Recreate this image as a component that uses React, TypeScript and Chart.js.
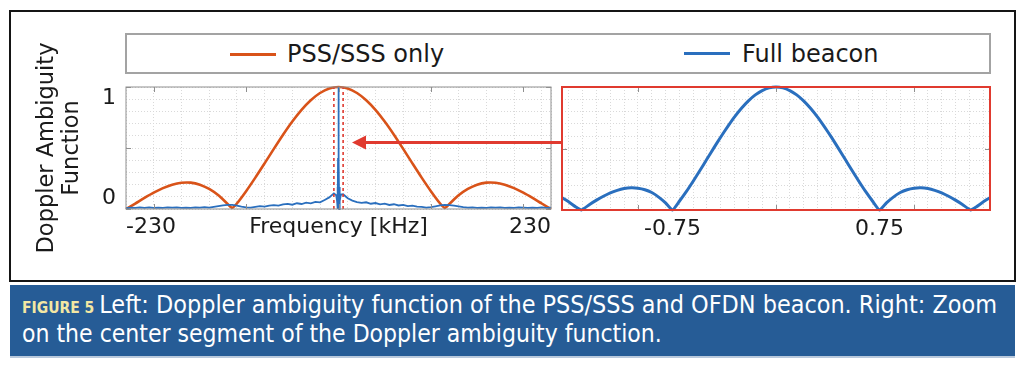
import React, { useEffect, useRef } from 'react';
import { Chart, registerables } from 'chart.js';

Chart.register(...registerables);

const ORANGE = '#D95319';
const BLUE = '#2A6FBE';
const RED = '#E03A2F';
const GRID_COLOR = '#d9d9d9';
const AXIS_COLOR = '#8f8f8f';
const TEXT = '#1a1a1a';
const FONT = '"DejaVu Sans", "Liberation Sans", sans-serif';
const CAPTION_FONT = '"DejaVu Sans Condensed", "Liberation Sans Narrow", "DejaVu Sans", sans-serif';

const seriesNames = ['PSS/SSS only', 'Full beacon'];

// Left panel: PSS/SSS only (kHz -> normalized level)
const pssFreqKHz = [-230, -220, -210, -200, -190, -180, -170, -160, -150, -140, -130, -120, -115, -110, -100, -90, -80, -70, -60, -50, -40, -30, -20, -10, 0, 10, 20, 30, 40, 50, 60, 70, 80, 90, 100, 110, 115, 120, 130, 140, 150, 160, 170, 180, 190, 200, 210, 220, 230];
const pssLevel = [0, 0.045, 0.091, 0.134, 0.171, 0.199, 0.215, 0.216, 0.199, 0.164, 0.112, 0.042, 0.01, 0.045, 0.146, 0.257, 0.374, 0.493, 0.609, 0.717, 0.813, 0.892, 0.951, 0.988, 1, 0.988, 0.951, 0.892, 0.813, 0.717, 0.609, 0.493, 0.374, 0.257, 0.146, 0.045, 0.01, 0.042, 0.112, 0.164, 0.199, 0.216, 0.215, 0.199, 0.171, 0.134, 0.091, 0.045, 0];

// Left panel: Full beacon
const beaconFreqKHz = [-230, -225, -220, -215, -210, -205, -200, -195, -190, -185, -180, -175, -170, -165, -160, -155, -150, -145, -140, -135, -130, -125, -120, -115, -110, -105, -100, -95, -90, -85, -80, -75, -70, -65, -60, -55, -50, -45, -40, -35, -30, -25, -20, -15, -10, -5, -2.5, -1.5, -1.05, -0.75, -0.5, -0.25, 0, 0.25, 0.5, 0.75, 1.05, 1.5, 2.5, 5, 10, 15, 20, 25, 30, 35, 40, 45, 50, 55, 60, 65, 70, 75, 80, 85, 90, 95, 100, 105, 110, 115, 120, 125, 130, 135, 140, 145, 150, 155, 160, 165, 170, 175, 180, 185, 190, 195, 200, 205, 210, 215, 220, 225, 230];
const beaconLevel = [0.008, 0.012, 0.009, 0.013, 0.010, 0.014, 0.009, 0.012, 0.010, 0.014, 0.011, 0.013, 0.009, 0.012, 0.010, 0.014, 0.011, 0.015, 0.012, 0.018, 0.024, 0.030, 0.034, 0.033, 0.028, 0.020, 0.013, 0.011, 0.017, 0.023, 0.019, 0.028, 0.032, 0.027, 0.038, 0.042, 0.035, 0.047, 0.041, 0.052, 0.046, 0.059, 0.054, 0.074, 0.095, 0.128, 0.112, 0.065, 0.18, 0, 0.41, 0.83, 1, 0.83, 0.41, 0, 0.18, 0.065, 0.118, 0.121, 0.088, 0.069, 0.057, 0.050, 0.055, 0.043, 0.049, 0.038, 0.044, 0.033, 0.039, 0.029, 0.034, 0.024, 0.028, 0.020, 0.017, 0.012, 0.015, 0.022, 0.029, 0.034, 0.032, 0.027, 0.021, 0.015, 0.011, 0.013, 0.009, 0.012, 0.010, 0.014, 0.011, 0.013, 0.009, 0.012, 0.010, 0.013, 0.011, 0.009, 0.012, 0.010, 0.013, 0.009, 0.011];

// Right panel: zoom on centre (Full beacon)
const zoomFreqKHz = [-1.55, -1.5, -1.45, -1.41, -1.35, -1.3, -1.25, -1.2, -1.15, -1.1, -1.05, -1.0, -0.95, -0.9, -0.85, -0.8, -0.75, -0.7, -0.65, -0.6, -0.55, -0.5, -0.45, -0.4, -0.35, -0.3, -0.25, -0.2, -0.15, -0.1, -0.05, 0, 0.05, 0.1, 0.15, 0.2, 0.25, 0.3, 0.35, 0.4, 0.45, 0.5, 0.55, 0.6, 0.65, 0.7, 0.75, 0.8, 0.85, 0.9, 0.95, 1.0, 1.05, 1.1, 1.15, 1.2, 1.25, 1.3, 1.35, 1.41, 1.45, 1.5, 1.55];
const zoomLevel = [0.10, 0.065, 0.025, 0, 0.045, 0.08, 0.112, 0.14, 0.16, 0.174, 0.18, 0.177, 0.165, 0.142, 0.105, 0.058, 0, 0.071, 0.149, 0.234, 0.323, 0.414, 0.505, 0.594, 0.678, 0.757, 0.827, 0.887, 0.936, 0.971, 0.993, 1, 0.993, 0.971, 0.936, 0.887, 0.827, 0.757, 0.678, 0.594, 0.505, 0.414, 0.323, 0.234, 0.149, 0.071, 0, 0.058, 0.105, 0.142, 0.165, 0.177, 0.18, 0.174, 0.16, 0.14, 0.112, 0.08, 0.045, 0, 0.025, 0.065, 0.10];

// Zoom window markers in the left panel
const zoomEdgesKHz = [-5, 5];

// Axes
const leftRangeKHz = [-230, 230];
const leftGridKHz = [-230, -200, -170, -140, -110, -80, -50, -20, 10, 40, 70, 100, 130, 160, 190, 220, 230];
const leftMajorKHz = [-200, -100, 0, 100, 200];
const leftLabelValues = [-230, 230];
const leftLabelTexts = ['-230', '230'];
const rightRangeKHz = [-1.55, 1.55];
const rightGridKHz = [-1.5, -1.4, -1.3, -1.2, -1.1, -1, -0.9, -0.8, -0.75, -0.7, -0.6, -0.5, -0.4, -0.3, -0.2, -0.1, 0, 0.1, 0.2, 0.3, 0.4, 0.5, 0.6, 0.7, 0.75, 0.8, 0.9, 1, 1.1, 1.2, 1.3, 1.4, 1.5];
const rightMajorKHz = [-1, 0, 1];
const rightLabelValues = [-0.75, 0.75];
const rightLabelTexts = ['-0.75', '0.75'];
const levelGrid = [0, 0.1, 0.2, 0.3, 0.4, 0.5, 0.6, 0.7, 0.8, 0.9, 1];
const levelMajor = [0, 0.5, 1];
const levelLabelValues = [0, 1];
const levelLabelTexts = ['0', '1'];
const xAxisTitle = 'Frequency [kHz]';
const yAxisTitle = ['Doppler Ambiguity', 'Function'];
const arrowTipKHz = 14.6;
const arrowLevel = 0.55;

const toPoints = (xs: number[], ys: number[]) => xs.map((x, i) => ({ x, y: ys[i] }));

const framePlugin = {
  id: 'frameBox',
  afterDatasetsDraw(chart: any, _args: any, opts: any) {
    const { ctx, chartArea: a, scales } = chart;
    ctx.save();
    ctx.strokeStyle = AXIS_COLOR;
    ctx.lineWidth = 1;
    const len = 5;
    const seg = (x1: number, y1: number, x2: number, y2: number) => {
      ctx.beginPath();
      ctx.moveTo(x1, y1);
      ctx.lineTo(x2, y2);
      ctx.stroke();
    };
    (opts.xMajor || []).forEach((v: number) => {
      const p = Math.round(scales.x.getPixelForValue(v)) + 0.5;
      seg(p, a.top, p, a.top + len);
      seg(p, a.bottom, p, a.bottom - len);
    });
    (opts.yMajor || []).forEach((v: number) => {
      const p = Math.round(scales.y.getPixelForValue(v)) + 0.5;
      seg(a.left, p, a.left + len, p);
      seg(a.right, p, a.right - len, p);
    });
    ctx.strokeStyle = opts.color;
    ctx.lineWidth = opts.width;
    ctx.strokeRect(a.left, a.top, a.right - a.left, a.bottom - a.top);
    ctx.restore();
  },
};

const arrowPlugin = {
  id: 'zoomArrow',
  afterDraw(chart: any, _args: any, opts: any) {
    if (opts.tip === undefined) return;
    const { ctx, scales } = chart;
    const tipX = scales.x.getPixelForValue(opts.tip);
    const y = Math.round(scales.y.getPixelForValue(opts.level)) + 0.5;
    ctx.save();
    ctx.strokeStyle = RED;
    ctx.fillStyle = RED;
    ctx.lineWidth = 3;
    ctx.beginPath();
    ctx.moveTo(tipX + 12, y);
    ctx.lineTo(chart.width, y);
    ctx.stroke();
    ctx.beginPath();
    ctx.moveTo(tipX, y);
    ctx.lineTo(tipX + 14, y - 7);
    ctx.lineTo(tipX + 14, y + 7);
    ctx.closePath();
    ctx.fill();
    ctx.restore();
  },
};

const labelFrom = (values: number[], texts: string[]) => (v: number) => {
  const i = values.findIndex((w) => Math.abs(w - v) < 1e-9);
  return i >= 0 ? texts[i] : '';
};

function leftConfig(): any {
  const edgeSets = zoomEdgesKHz.map((e) => ({
    label: 'zoom window',
    data: [{ x: e, y: 0 }, { x: e, y: 1 }],
    borderColor: RED,
    borderWidth: 1.6,
    borderDash: [3, 3],
    pointRadius: 0,
  }));
  return {
    type: 'line',
    data: {
      datasets: [
        ...edgeSets,
        {
          label: seriesNames[1],
          data: toPoints(beaconFreqKHz, beaconLevel),
          borderColor: BLUE,
          borderWidth: 1.8,
          pointRadius: 0,
          tension: 0,
        },
        {
          label: seriesNames[0],
          data: toPoints(pssFreqKHz, pssLevel),
          borderColor: ORANGE,
          borderWidth: 2.6,
          pointRadius: 0,
          tension: 0.25,
        },
      ],
    },
    plugins: [framePlugin, arrowPlugin],
    options: {
      animation: false,
      responsive: false,
      maintainAspectRatio: false,
      clip: false,
      layout: { padding: { left: 0, top: 57, right: 11, bottom: 0 } },
      plugins: {
        legend: { display: false },
        tooltip: { enabled: false },
        frameBox: { color: AXIS_COLOR, width: 1, xMajor: leftMajorKHz, yMajor: levelMajor },
        zoomArrow: { tip: arrowTipKHz, level: arrowLevel },
      },
      scales: {
        x: {
          type: 'linear',
          min: leftRangeKHz[0],
          max: leftRangeKHz[1],
          afterBuildTicks: (s: any) => { s.ticks = leftGridKHz.map((v) => ({ value: v })); },
          afterFit: (s: any) => { s.height = 52; s.paddingLeft = 0; s.paddingRight = 0; s.paddingTop = 0; s.paddingBottom = 0; },
          ticks: {
            autoSkip: false,
            maxRotation: 0,
            minRotation: 0,
            align: 'inner',
            padding: 5,
            color: TEXT,
            font: { family: FONT, size: 22 },
            callback: labelFrom(leftLabelValues, leftLabelTexts),
          },
          grid: { color: GRID_COLOR, lineWidth: 1, drawTicks: false, borderDash: [1, 2] },
          border: { display: false, dash: [1, 2] },
          title: {
            display: true,
            text: xAxisTitle,
            color: TEXT,
            font: { family: FONT, size: 22 },
            padding: { top: 0, bottom: 21 },
          },
        },
        y: {
          type: 'linear',
          min: 0,
          max: 1,
          afterBuildTicks: (s: any) => { s.ticks = levelGrid.map((v) => ({ value: v })); },
          afterFit: (s: any) => { s.width = 116; s.paddingTop = 0; s.paddingBottom = 0; s.paddingLeft = 0; s.paddingRight = 0; },
          ticks: {
            autoSkip: false,
            padding: 10,
            color: TEXT,
            font: { family: FONT, size: 22, lineHeight: 1.0 },
            callback: (v: number) => {
              const t = labelFrom(levelLabelValues, levelLabelTexts)(v);
              if (!t) return '';
              return v >= 0.5 ? ['', t] : [t, ''];
            },
          },
          grid: { color: GRID_COLOR, lineWidth: 1, drawTicks: false, borderDash: [1, 2] },
          border: { display: false, dash: [1, 2] },
          title: {
            display: true,
            text: yAxisTitle,
            color: TEXT,
            font: { family: FONT, size: 22.5, lineHeight: 1.1 },
            padding: { top: 25, bottom: 0 },
          },
        },
      },
    },
  };
}

function rightConfig(): any {
  return {
    type: 'line',
    data: {
      datasets: [
        {
          label: seriesNames[1],
          data: toPoints(zoomFreqKHz, zoomLevel),
          borderColor: BLUE,
          borderWidth: 3,
          pointRadius: 0,
          tension: 0.15,
        },
      ],
    },
    plugins: [framePlugin],
    options: {
      animation: false,
      responsive: false,
      maintainAspectRatio: false,
      clip: false,
      layout: { padding: { left: 2, top: 2, right: 2, bottom: 0 } },
      plugins: {
        legend: { display: false },
        tooltip: { enabled: false },
        frameBox: { color: RED, width: 2, xMajor: rightMajorKHz, yMajor: levelMajor },
      },
      scales: {
        x: {
          type: 'linear',
          min: rightRangeKHz[0],
          max: rightRangeKHz[1],
          afterBuildTicks: (s: any) => { s.ticks = rightGridKHz.map((v) => ({ value: v })); },
          afterFit: (s: any) => { s.height = 45; s.paddingLeft = 0; s.paddingRight = 0; s.paddingTop = 0; s.paddingBottom = 0; },
          ticks: {
            autoSkip: false,
            maxRotation: 0,
            minRotation: 0,
            padding: 6,
            color: TEXT,
            font: { family: FONT, size: 22 },
            callback: labelFrom(rightLabelValues, rightLabelTexts),
          },
          grid: {
            color: (c: any) => (c.tick && rightLabelValues.some((w) => Math.abs(w - c.tick.value) < 1e-9) ? 'rgba(0,0,0,0)' : GRID_COLOR),
            lineWidth: 1,
            drawTicks: false,
            borderDash: [1, 2],
          },
          border: { display: false, dash: [1, 2] },
        },
        y: {
          type: 'linear',
          min: 0,
          max: 1,
          afterBuildTicks: (s: any) => { s.ticks = levelGrid.map((v) => ({ value: v })); },
          afterFit: (s: any) => { s.width = 0; s.paddingTop = 0; s.paddingBottom = 0; s.paddingLeft = 0; s.paddingRight = 0; },
          ticks: { display: false },
          grid: { color: GRID_COLOR, lineWidth: 1, drawTicks: false, borderDash: [1, 2] },
          border: { display: false, dash: [1, 2] },
        },
      },
    },
  };
}

export default function App() {
  const leftRef = useRef<HTMLCanvasElement>(null);
  const rightRef = useRef<HTMLCanvasElement>(null);

  useEffect(() => {
    const left = new Chart(leftRef.current as HTMLCanvasElement, leftConfig());
    const right = new Chart(rightRef.current as HTMLCanvasElement, rightConfig());
    return () => {
      left.destroy();
      right.destroy();
    };
  }, []);

  const legendText: React.CSSProperties = {
    position: 'absolute',
    top: 7,
    fontFamily: FONT,
    fontSize: 24,
    lineHeight: '24px',
    color: TEXT,
    whiteSpace: 'nowrap',
  };

  const captionLine: React.CSSProperties = {
    position: 'absolute',
    left: 12,
    fontFamily: CAPTION_FONT,
    fontSize: 24.5,
    lineHeight: '28px',
    color: '#ffffff',
    whiteSpace: 'nowrap',
  };

  return (
    <div style={{ position: 'absolute', left: 0, top: 0, width: 1024, height: 366, background: '#fff', overflow: 'hidden' }}>
      {/* outer figure frame */}
      <div style={{ position: 'absolute', left: 9, top: 10, width: 1007, height: 272, border: '2px solid #151515', boxSizing: 'border-box' }} />
      {/* legend */}
      <div style={{ position: 'absolute', left: 125, top: 33, width: 866, height: 41, border: '2px solid #a3a3a3', boxSizing: 'border-box', background: '#fff' }}>
        <div style={{ position: 'absolute', left: 103, top: 18, width: 46, height: 3, background: ORANGE }} />
        <div style={{ ...legendText, left: 160 }}>{seriesNames[0]}</div>
        <div style={{ position: 'absolute', left: 557, top: 17, width: 46, height: 3, background: BLUE }} />
        <div style={{ ...legendText, left: 615 }}>{seriesNames[1]}</div>
      </div>
      <canvas ref={leftRef} width={552} height={231} style={{ position: 'absolute', left: 10, top: 30, width: 552, height: 231 }} />
      <canvas ref={rightRef} width={432} height={170} style={{ position: 'absolute', left: 560, top: 85, width: 432, height: 170 }} />
      {/* caption */}
      <div style={{ position: 'absolute', left: 10, top: 285, width: 1005, height: 71, background: '#265C96', borderBottom: '2px solid #b9c9dc', boxSizing: 'content-box' }}>
        <div style={{ ...captionLine, top: 6, fontSize: 24.9 }}>
          <span style={{ color: '#F3E7A3', fontWeight: 'bold', fontSize: 15.5, marginRight: 5 }}>FIGURE 5</span>
          Left: Doppler ambiguity function of the PSS/SSS and OFDN beacon. Right: Zoom
        </div>
        <div style={{ ...captionLine, top: 35 }}>
          on the center segment of the Doppler ambiguity function.
        </div>
      </div>
    </div>
  );
}
